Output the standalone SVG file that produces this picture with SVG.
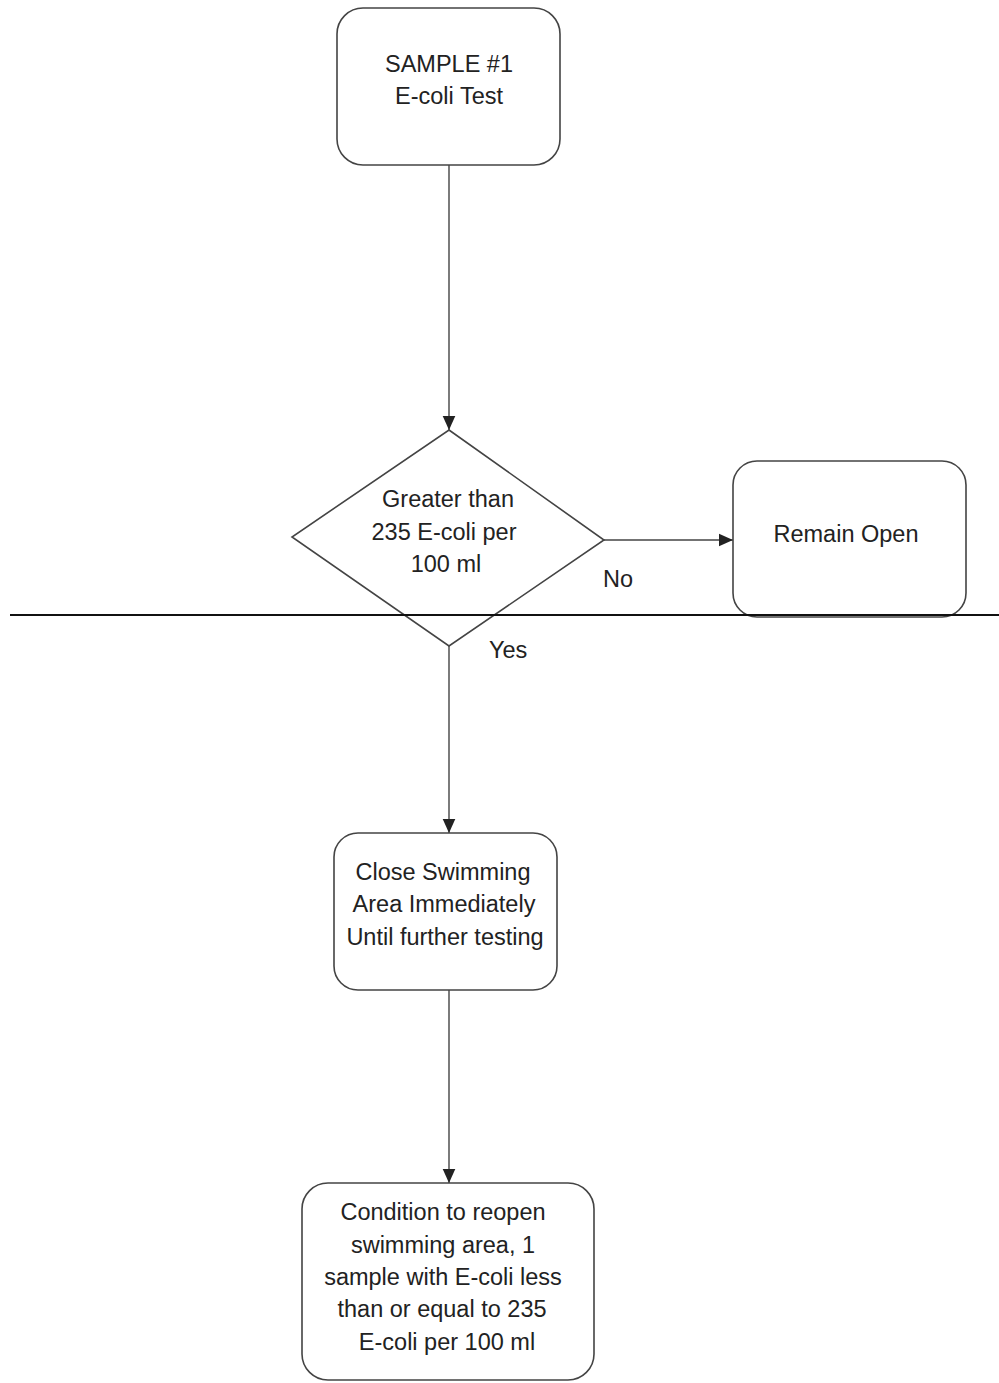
<svg xmlns="http://www.w3.org/2000/svg" width="999" height="1383" viewBox="0 0 999 1383">
<defs>
<marker id="arr" viewBox="0 0 10 10" refX="10" refY="5" markerWidth="11" markerHeight="10" markerUnits="strokeWidth" orient="auto">
<path d="M0,0.5 L10,5 L0,9.5 z" fill="#222"/>
</marker>
<style>
.box{fill:#fff;stroke:#444;stroke-width:1.6}
.t{font-family:"Liberation Sans",Arial,sans-serif;font-size:23.5px;fill:#222;text-anchor:middle}
.l{font-family:"Liberation Sans",Arial,sans-serif;font-size:23.5px;fill:#222}
.c{stroke:#444;stroke-width:1.4;fill:none}
</style>
</defs>
<rect width="999" height="1383" fill="#fff"/>
<g id="connectors">
<line class="c" x1="449" y1="165" x2="449" y2="430" marker-end="url(#arr)"/>
<line class="c" x1="604" y1="540" x2="733" y2="540" marker-end="url(#arr)"/>
<line class="c" x1="449" y1="646" x2="449" y2="833" marker-end="url(#arr)"/>
<line class="c" x1="449" y1="990" x2="449" y2="1183" marker-end="url(#arr)"/>
<text class="l" x="603" y="587">No</text>
<text class="l" x="489" y="658">Yes</text>
</g>
<g id="sample">
<rect class="box" x="337" y="8" width="223" height="157" rx="26"/>
<text class="t" x="449" y="72">SAMPLE #1</text>
<text class="t" x="449" y="104">E-coli Test</text>
</g>
<g id="decision">
<polygon class="box" points="449,430 604,540 449,646 292,537"/>
<text class="t" x="448" y="507">Greater than</text>
<text class="t" x="444" y="540">235 E-coli per</text>
<text class="t" x="446" y="572">100 ml</text>
</g>
<g id="remain">
<rect class="box" x="733" y="461" width="233" height="156" rx="24"/>
<text class="t" x="846" y="542">Remain Open</text>
</g>
<g id="divider">
<line x1="10" y1="615" x2="999" y2="615" stroke="#111" stroke-width="2"/>
</g>
<g id="close">
<rect class="box" x="334" y="833" width="223" height="157" rx="24"/>
<text class="t" x="443" y="880">Close Swimming</text>
<text class="t" x="444" y="912">Area Immediately</text>
<text class="t" x="445" y="945">Until further testing</text>
</g>
<g id="reopen">
<rect class="box" x="302" y="1183" width="292" height="197" rx="26"/>
<text class="t" x="443" y="1220">Condition to reopen</text>
<text class="t" x="443" y="1253">swimming area, 1</text>
<text class="t" x="443" y="1285">sample with E-coli less</text>
<text class="t" x="442" y="1317">than or equal to 235</text>
<text class="t" x="447" y="1350">E-coli per 100 ml</text>
</g>
</svg>
